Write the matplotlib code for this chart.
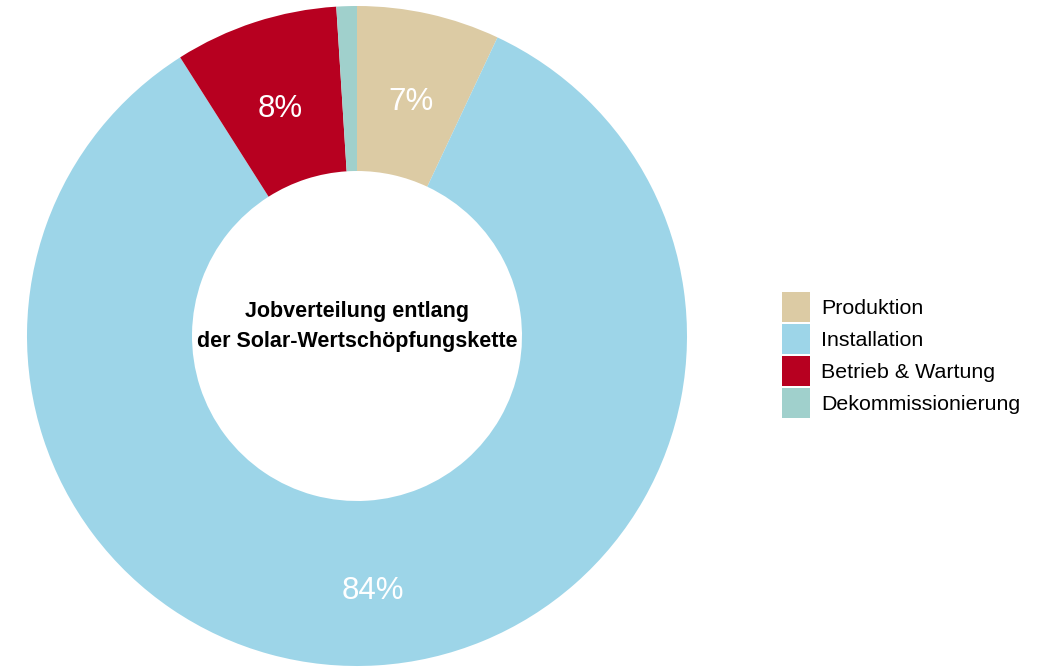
import matplotlib
matplotlib.use("Agg")
import matplotlib.pyplot as plt
import numpy as np

plt.rcParams['font.family'] = ['Liberation Sans', 'DejaVu Sans']

# Job shares along the solar value chain (percent)
categories = ["Produktion", "Installation", "Betrieb & Wartung", "Dekommissionierung"]
shares = [7, 84, 8, 1]
labels = ["7%", "84%", "8%", ""]
colors = ["#DCCBA4", "#9DD5E8", "#B70020", "#A0D0CC"]
title_lines = ["Jobverteilung entlang", "der Solar-Wertschöpfungskette"]

W, H = 1043, 667
fig = plt.figure(figsize=(W / 100, H / 100), dpi=100)
ax = fig.add_axes([0, 0, 1, 1])

cx, cy, R = 357, 331, 330
wedges, _ = ax.pie(
    shares,
    colors=colors,
    startangle=90,
    counterclock=False,
    center=(cx, cy),
    radius=R,
    wedgeprops=dict(width=R * 0.5, edgecolor="none", linewidth=0),
    frame=True,
)
ax.set_xlim(0, W)
ax.set_ylim(0, H)
ax.set_aspect("equal")
ax.axis("off")

# Percentage labels in the middle of the ring
cum = np.cumsum([0] + shares)
total = sum(shares)
for i, lab in enumerate(labels):
    if not lab:
        continue
    mid = 90 - 360 * (cum[i] + shares[i] / 2) / total
    r = R * 0.75
    ax.text(cx + r * np.cos(np.radians(mid)), cy + r * np.sin(np.radians(mid)) - 8,
            lab, ha="center", va="center", color="white", fontsize=22.5)

ax.text(cx, cy + 25, title_lines[0], ha="center", va="center",
        fontsize=15.5, fontweight="bold", color="black")
ax.text(cx, cy - 6, title_lines[1], ha="center", va="center",
        fontsize=15.5, fontweight="bold", color="black")

leg = fig.legend(
    wedges, categories,
    loc="upper left",
    bbox_to_anchor=(782 / W, 1 - 292 / H),
    frameon=False,
    fontsize=15.4,
    handlelength=1.31,
    handleheight=1.78,
    handletextpad=0.51,
    labelspacing=0.09,
    borderpad=0,
    borderaxespad=0,
)

fig.savefig("out.png", dpi=100)
